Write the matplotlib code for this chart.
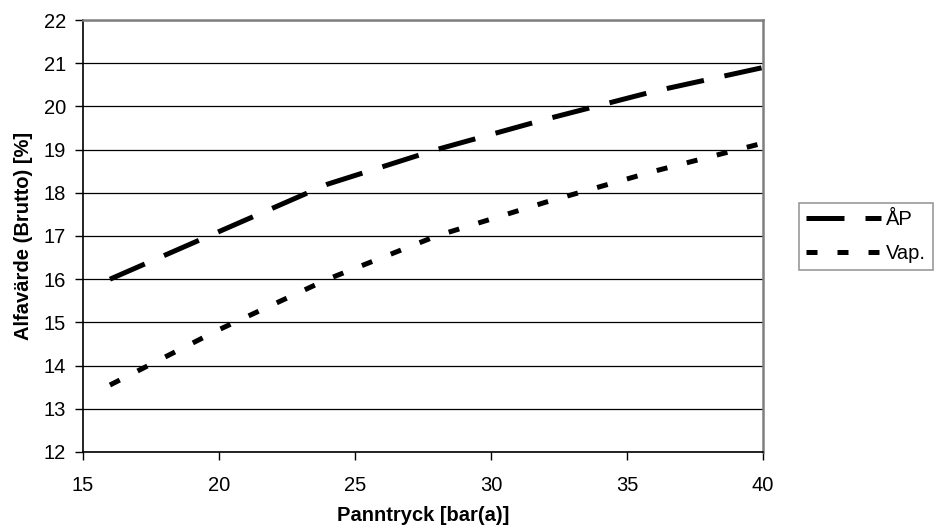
import matplotlib
matplotlib.use("Agg")
import matplotlib.pyplot as plt

plt.rcParams['font.family'] = ['Liberation Sans', 'DejaVu Sans']

# boiler pressure [bar(a)] and alpha value [%]
pressure = [16, 20, 24, 28, 32, 36, 40]
alpha_ap = [16.0, 17.1, 18.2, 19.0, 19.7, 20.35, 20.9]
alpha_vap = [13.55, 14.83, 16.0, 17.0, 17.78, 18.5, 19.15]

x_ticks = [15, 20, 25, 30, 35, 40]
y_ticks = list(range(12, 23))

fig = plt.figure(figsize=(9.39, 5.32), dpi=100)
ax = fig.add_axes([0.0881, 0.1504, 0.7245, 0.812])

ax.plot(pressure, alpha_ap, color='black', lw=3.6, dashes=(7.6, 4.2),
        dash_capstyle='butt', label='ÅP', zorder=3)
ax.plot(pressure, alpha_vap, color='black', lw=3.6, dashes=(2.2, 4.0),
        dash_capstyle='butt', label='Vap.', zorder=3)

ax.set_xlim(15, 40)
ax.set_ylim(12, 22)
ax.set_xticks(x_ticks)
ax.set_yticks(y_ticks)

# horizontal grid only, like a spreadsheet chart
ax.yaxis.grid(True, color='black', lw=0.9)
ax.set_axisbelow(True)

for side in ['top', 'right']:
    ax.spines[side].set_color('#808080')
    ax.spines[side].set_linewidth(1.8)
for side in ['left', 'bottom']:
    ax.spines[side].set_color('black')
    ax.spines[side].set_linewidth(1.2)

ax.tick_params(axis='both', direction='out', length=6, width=1.0,
               labelsize=14.5)
ax.tick_params(axis='x', pad=11)
ax.tick_params(axis='y', pad=6)

ax.set_xlabel('Panntryck [bar(a)]', fontsize=14.5, fontweight='bold',
              labelpad=8)
ax.set_ylabel('Alfavärde (Brutto) [%]', fontsize=14.5, fontweight='bold',
              labelpad=8)

leg = fig.legend(loc='upper left', bbox_to_anchor=(0.851, 0.619),
                 borderaxespad=0, fontsize=14.5, frameon=True, fancybox=False,
                 handlelength=3.7, handletextpad=0.25, labelspacing=0.75,
                 borderpad=0.35)
leg.get_frame().set_edgecolor('#808080')
leg.get_frame().set_linewidth(1.2)

fig.savefig('out.png', dpi=100)
